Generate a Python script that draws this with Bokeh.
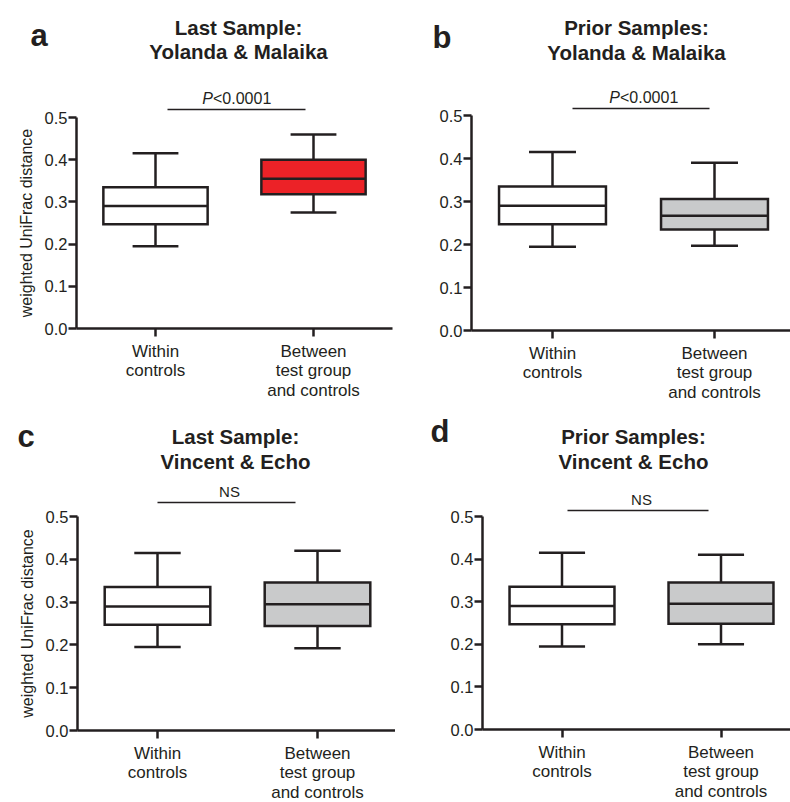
import numpy as np
from bokeh.plotting import figure
from bokeh.models import Range1d, FixedTicker, NumeralTickFormatter, LinearAxis
from bokeh.layouts import column, row
from bokeh.embed import file_html
from bokeh.resources import INLINE
from bokeh.core.properties import value

# ---------------- data ----------------
categories = ["Within\ncontrols", "Between\ntest group\nand controls"]
cat_x = [0.5, 1.5]
y_ticks = [0.0, 0.1, 0.2, 0.3, 0.4, 0.5]

# five-number summaries: [min, q1, median, q3, max]
within_controls = [0.195, 0.247, 0.290, 0.335, 0.415]
a_between = [0.275, 0.318, 0.355, 0.400, 0.460]
b_between = [0.197, 0.235, 0.267, 0.306, 0.390]
c_between = [0.192, 0.244, 0.295, 0.346, 0.420]
d_between = [0.200, 0.248, 0.295, 0.345, 0.410]

panel_letters = ["a", "b", "c", "d"]
title_line1 = ["Last Sample:", "Prior Samples:", "Last Sample:", "Prior Samples:"]
title_line2 = ["Yolanda & Malaika", "Yolanda & Malaika", "Vincent & Echo", "Vincent & Echo"]
sig_labels = ["P<0.0001", "P<0.0001", "NS", "NS"]
between_fill = ["#ec2227", "#c9cacb", "#c9cacb", "#c9cacb"]
ylabel = "weighted UniFrac distance"

# ---------------- styling / layout ----------------
FONT = "Liberation Sans"
INK = "#231f20"
W, H = 395, 401
BOX_W = 0.66
CAP_W = 0.29

# layout spec in pixel units (per panel, local to the panel)
specs = [
    dict(ax=76, unit=158, y0=328, ppu=422, letter=(30, 35), tc=238, tb=(27, 51), sc=236, sb=98, ly=109, lx=(167, 305)),
    dict(ax=76, unit=162, y0=330, ppu=430, letter=(37, 37), tc=241, tb=(27, 52), sc=248, sb=97, ly=108, lx=(177, 314)),
    dict(ax=77, unit=160, y0=329, ppu=428, letter=(17, 35), tc=235, tb=(35, 60), sc=229, sb=90, ly=101, lx=(157, 295)),
    dict(ax=87, unit=159, y0=328, ppu=426, letter=(35, 30), tc=238, tb=(35, 60), sc=246, sb=98, ly=109, lx=(172, 313)),
]


def make_panel(i, between):
    s = specs[i]

    def X(px):
        return (px - s["ax"]) / s["unit"]

    def Y(py):
        return (s["y0"] - py) / s["ppu"]

    p = figure(width=W, height=H, x_range=Range1d(X(0), X(W)), y_range=Range1d(Y(H), Y(0)),
               output_backend="svg", toolbar_location=None, tools="",
               x_axis_location=None, y_axis_location=None, min_border=0,
               outline_line_color=None, background_fill_color="white", border_fill_color="white")
    p.grid.visible = False

    yaxis = LinearAxis(fixed_location=0, bounds=(0, 0.5), ticker=FixedTicker(ticks=y_ticks),
                       formatter=NumeralTickFormatter(format="0.0"))
    xaxis = LinearAxis(fixed_location=0, bounds=(0, 2), ticker=FixedTicker(ticks=cat_x),
                       major_label_overrides=dict(zip(cat_x, categories)))
    for a in (yaxis, xaxis):
        a.axis_line_width = 2.5
        a.axis_line_color = INK
        a.major_tick_line_width = 2.5
        a.major_tick_line_color = INK
        a.major_tick_out = 8
        a.major_tick_in = 0
        a.minor_tick_out = 0
        a.minor_tick_in = 0
        a.major_label_text_font = FONT
        a.major_label_text_color = INK
    yaxis.major_label_text_font_size = "16.5px"
    yaxis.major_label_standoff = 1
    xaxis.major_label_text_font_size = "17px"
    xaxis.major_label_text_line_height = 1.05
    xaxis.major_label_standoff = 5
    if i in (0, 2):
        yaxis.axis_label = ylabel
        yaxis.axis_label_text_font = FONT
        yaxis.axis_label_text_font_size = "16px"
        yaxis.axis_label_text_font_style = "normal"
        yaxis.axis_label_text_color = INK
        yaxis.axis_label_standoff = 7
    p.add_layout(yaxis, "left")
    p.add_layout(xaxis, "below")

    xs = np.array(cat_x)
    stats = np.array([within_controls, between])
    mins, q1, med, q3, maxs = stats.T
    lw = 2.5
    p.segment(x0=xs, y0=mins, x1=xs, y1=q1, line_color=INK, line_width=lw)
    p.segment(x0=xs, y0=q3, x1=xs, y1=maxs, line_color=INK, line_width=lw)
    p.segment(x0=xs - CAP_W / 2, y0=mins, x1=xs + CAP_W / 2, y1=mins, line_color=INK, line_width=lw)
    p.segment(x0=xs - CAP_W / 2, y0=maxs, x1=xs + CAP_W / 2, y1=maxs, line_color=INK, line_width=lw)
    p.vbar(x=xs, width=BOX_W, bottom=q1, top=q3, fill_color=["white", between_fill[i]],
           line_color=INK, line_width=lw, line_join="miter")
    p.segment(x0=xs - BOX_W / 2, y0=med, x1=xs + BOX_W / 2, y1=med, line_color=INK, line_width=lw)

    # panel letter
    p.text(x=[X(s["letter"][0])], y=[Y(s["letter"][1])], text=[panel_letters[i]],
           text_font=value(FONT), text_font_size="31px", text_font_style="bold",
           text_align="left", text_baseline="alphabetic", text_color=INK)
    # title
    p.text(x=[X(s["tc"]), X(s["tc"])], y=[Y(s["tb"][0]), Y(s["tb"][1])],
           text=[title_line1[i], title_line2[i]],
           text_font=value(FONT), text_font_size="20.5px", text_font_style="bold",
           text_align="center", text_baseline="alphabetic", text_color=INK)
    # significance
    lab = sig_labels[i]
    if lab.startswith("P"):
        split = X(s["sc"] - 23.5)
        p.text(x=[split], y=[Y(s["sb"])], text=[lab[0]], text_font=value(FONT), text_font_size="16px",
               text_font_style="italic", text_align="right", text_baseline="alphabetic", text_color=INK)
        p.text(x=[split], y=[Y(s["sb"])], text=[lab[1:]], text_font=value(FONT), text_font_size="16px",
               text_align="left", text_baseline="alphabetic", text_color=INK)
    else:
        p.text(x=[X(s["sc"])], y=[Y(s["sb"])], text=[lab], text_font=value(FONT), text_font_size="15px",
               text_align="center", text_baseline="alphabetic", text_color=INK)
    p.segment(x0=[X(s["lx"][0])], y0=[Y(s["ly"])], x1=[X(s["lx"][1])], y1=[Y(s["ly"])],
              line_color=INK, line_width=1.5)
    return p


panels = [make_panel(i, b) for i, b in enumerate([a_between, b_between, c_between, d_between])]
layout = column(row(panels[0], panels[1]), row(panels[2], panels[3]))

open("out.html", "w").write(file_html(layout, INLINE))
